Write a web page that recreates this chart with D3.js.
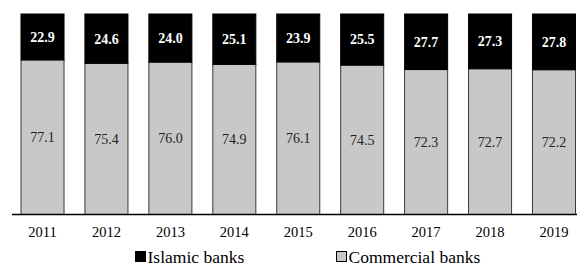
<!DOCTYPE html>
<html>
<head>
<meta charset="utf-8">
<script src="https://cdn.jsdelivr.net/npm/d3@7"></script>
<style>
  body { margin: 0; background: #fff; }
  svg text { font-family: "Liberation Serif", "Times New Roman", serif; }
</style>
</head>
<body>
<svg id="chart"></svg>
<script>
var years = ["2011","2012","2013","2014","2015","2016","2017","2018","2019"];
var islamic = [22.9, 24.6, 24.0, 25.1, 23.9, 25.5, 27.7, 27.3, 27.8];
var commercial = [77.1, 75.4, 76.0, 74.9, 76.1, 74.5, 72.3, 72.7, 72.2];
var seriesNames = ["Islamic banks", "Commercial banks"];

var svgWidth = 582, svgHeight = 265;
var plotTop = 14, plotBottom = 214.5;

var svg = d3.select("#chart")
  .attr("width", svgWidth)
  .attr("height", svgHeight);

var xScale = d3.scaleBand()
  .domain(years)
  .range([14.6, 581.9])
  .paddingInner(0.327)
  .paddingOuter(0.1);

var yScale = d3.scaleLinear()
  .domain([0, 100])
  .range([plotBottom, plotTop]);

var rows = years.map(function(y, i) {
  return { year: y, isl: islamic[i], com: commercial[i] };
});

// commercial (bottom, grey)
svg.selectAll("rect.com")
  .data(rows)
  .enter()
  .append("rect")
  .attr("class", "com")
  .attr("x", function(d){ return xScale(d.year); })
  .attr("y", function(d){ return yScale(d.com); })
  .attr("width", xScale.bandwidth())
  .attr("height", function(d){ return yScale(0) - yScale(d.com); })
  .attr("fill", "#c8c8c8")
  .attr("stroke", "#3a3a3a")
  .attr("stroke-width", 1);

// islamic (top, black)
svg.selectAll("rect.isl")
  .data(rows)
  .enter()
  .append("rect")
  .attr("class", "isl")
  .attr("x", function(d){ return xScale(d.year); })
  .attr("y", function(d){ return yScale(d.com + d.isl); })
  .attr("width", xScale.bandwidth())
  .attr("height", function(d){ return yScale(d.com) - yScale(d.com + d.isl); })
  .attr("fill", "#000")
  .attr("stroke", "#000")
  .attr("stroke-width", 1);

// labels
svg.selectAll("text.comlab")
  .data(rows)
  .enter()
  .append("text")
  .attr("class", "comlab")
  .attr("x", function(d){ return xScale(d.year) + xScale.bandwidth() / 2; })
  .attr("y", function(d){ return yScale(d.com / 2); })
  .attr("dy", "0.35em")
  .attr("text-anchor", "middle")
  .attr("font-size", "14px")
  .attr("fill", "#222")
  .text(function(d){ return d.com.toFixed(1); });

svg.selectAll("text.islab")
  .data(rows)
  .enter()
  .append("text")
  .attr("class", "islab")
  .attr("x", function(d){ return xScale(d.year) + xScale.bandwidth() / 2; })
  .attr("y", function(d){ return yScale(d.com + d.isl / 2); })
  .attr("dy", "0.35em")
  .attr("text-anchor", "middle")
  .attr("font-size", "14px")
  .attr("font-weight", "bold")
  .attr("fill", "#fff")
  .text(function(d){ return d.isl.toFixed(1); });

// x axis
var xAxis = d3.axisBottom(xScale).tickSize(0).tickPadding(12);
var gx = svg.append("g")
  .attr("transform", "translate(0," + plotBottom + ")")
  .call(xAxis);
gx.select(".domain").remove();
gx.selectAll("text")
  .attr("font-family", "Liberation Serif, serif")
  .attr("font-size", "14.5px")
  .attr("fill", "#000");

svg.append("line")
  .attr("x1", 12).attr("x2", 577)
  .attr("y1", plotBottom).attr("y2", plotBottom)
  .attr("stroke", "#000")
  .attr("stroke-width", 1.3);

// legend
var legend = [
  { name: seriesNames[0], fill: "#000", x: 135 },
  { name: seriesNames[1], fill: "#c8c8c8", x: 336 }
];
var lg = svg.selectAll("g.leg")
  .data(legend)
  .enter()
  .append("g")
  .attr("class", "leg")
  .attr("transform", function(d){ return "translate(" + d.x + ",251)"; });
lg.append("rect")
  .attr("x", 0.5).attr("y", 0.5)
  .attr("width", 10).attr("height", 10)
  .attr("fill", function(d){ return d.fill; })
  .attr("stroke", "#000")
  .attr("stroke-width", 1);
lg.append("text")
  .attr("x", 12.5)
  .attr("y", 11.5)
  .attr("font-size", "17.5px")
  .attr("fill", "#000")
  .text(function(d){ return d.name; });
</script>
</body>
</html>
